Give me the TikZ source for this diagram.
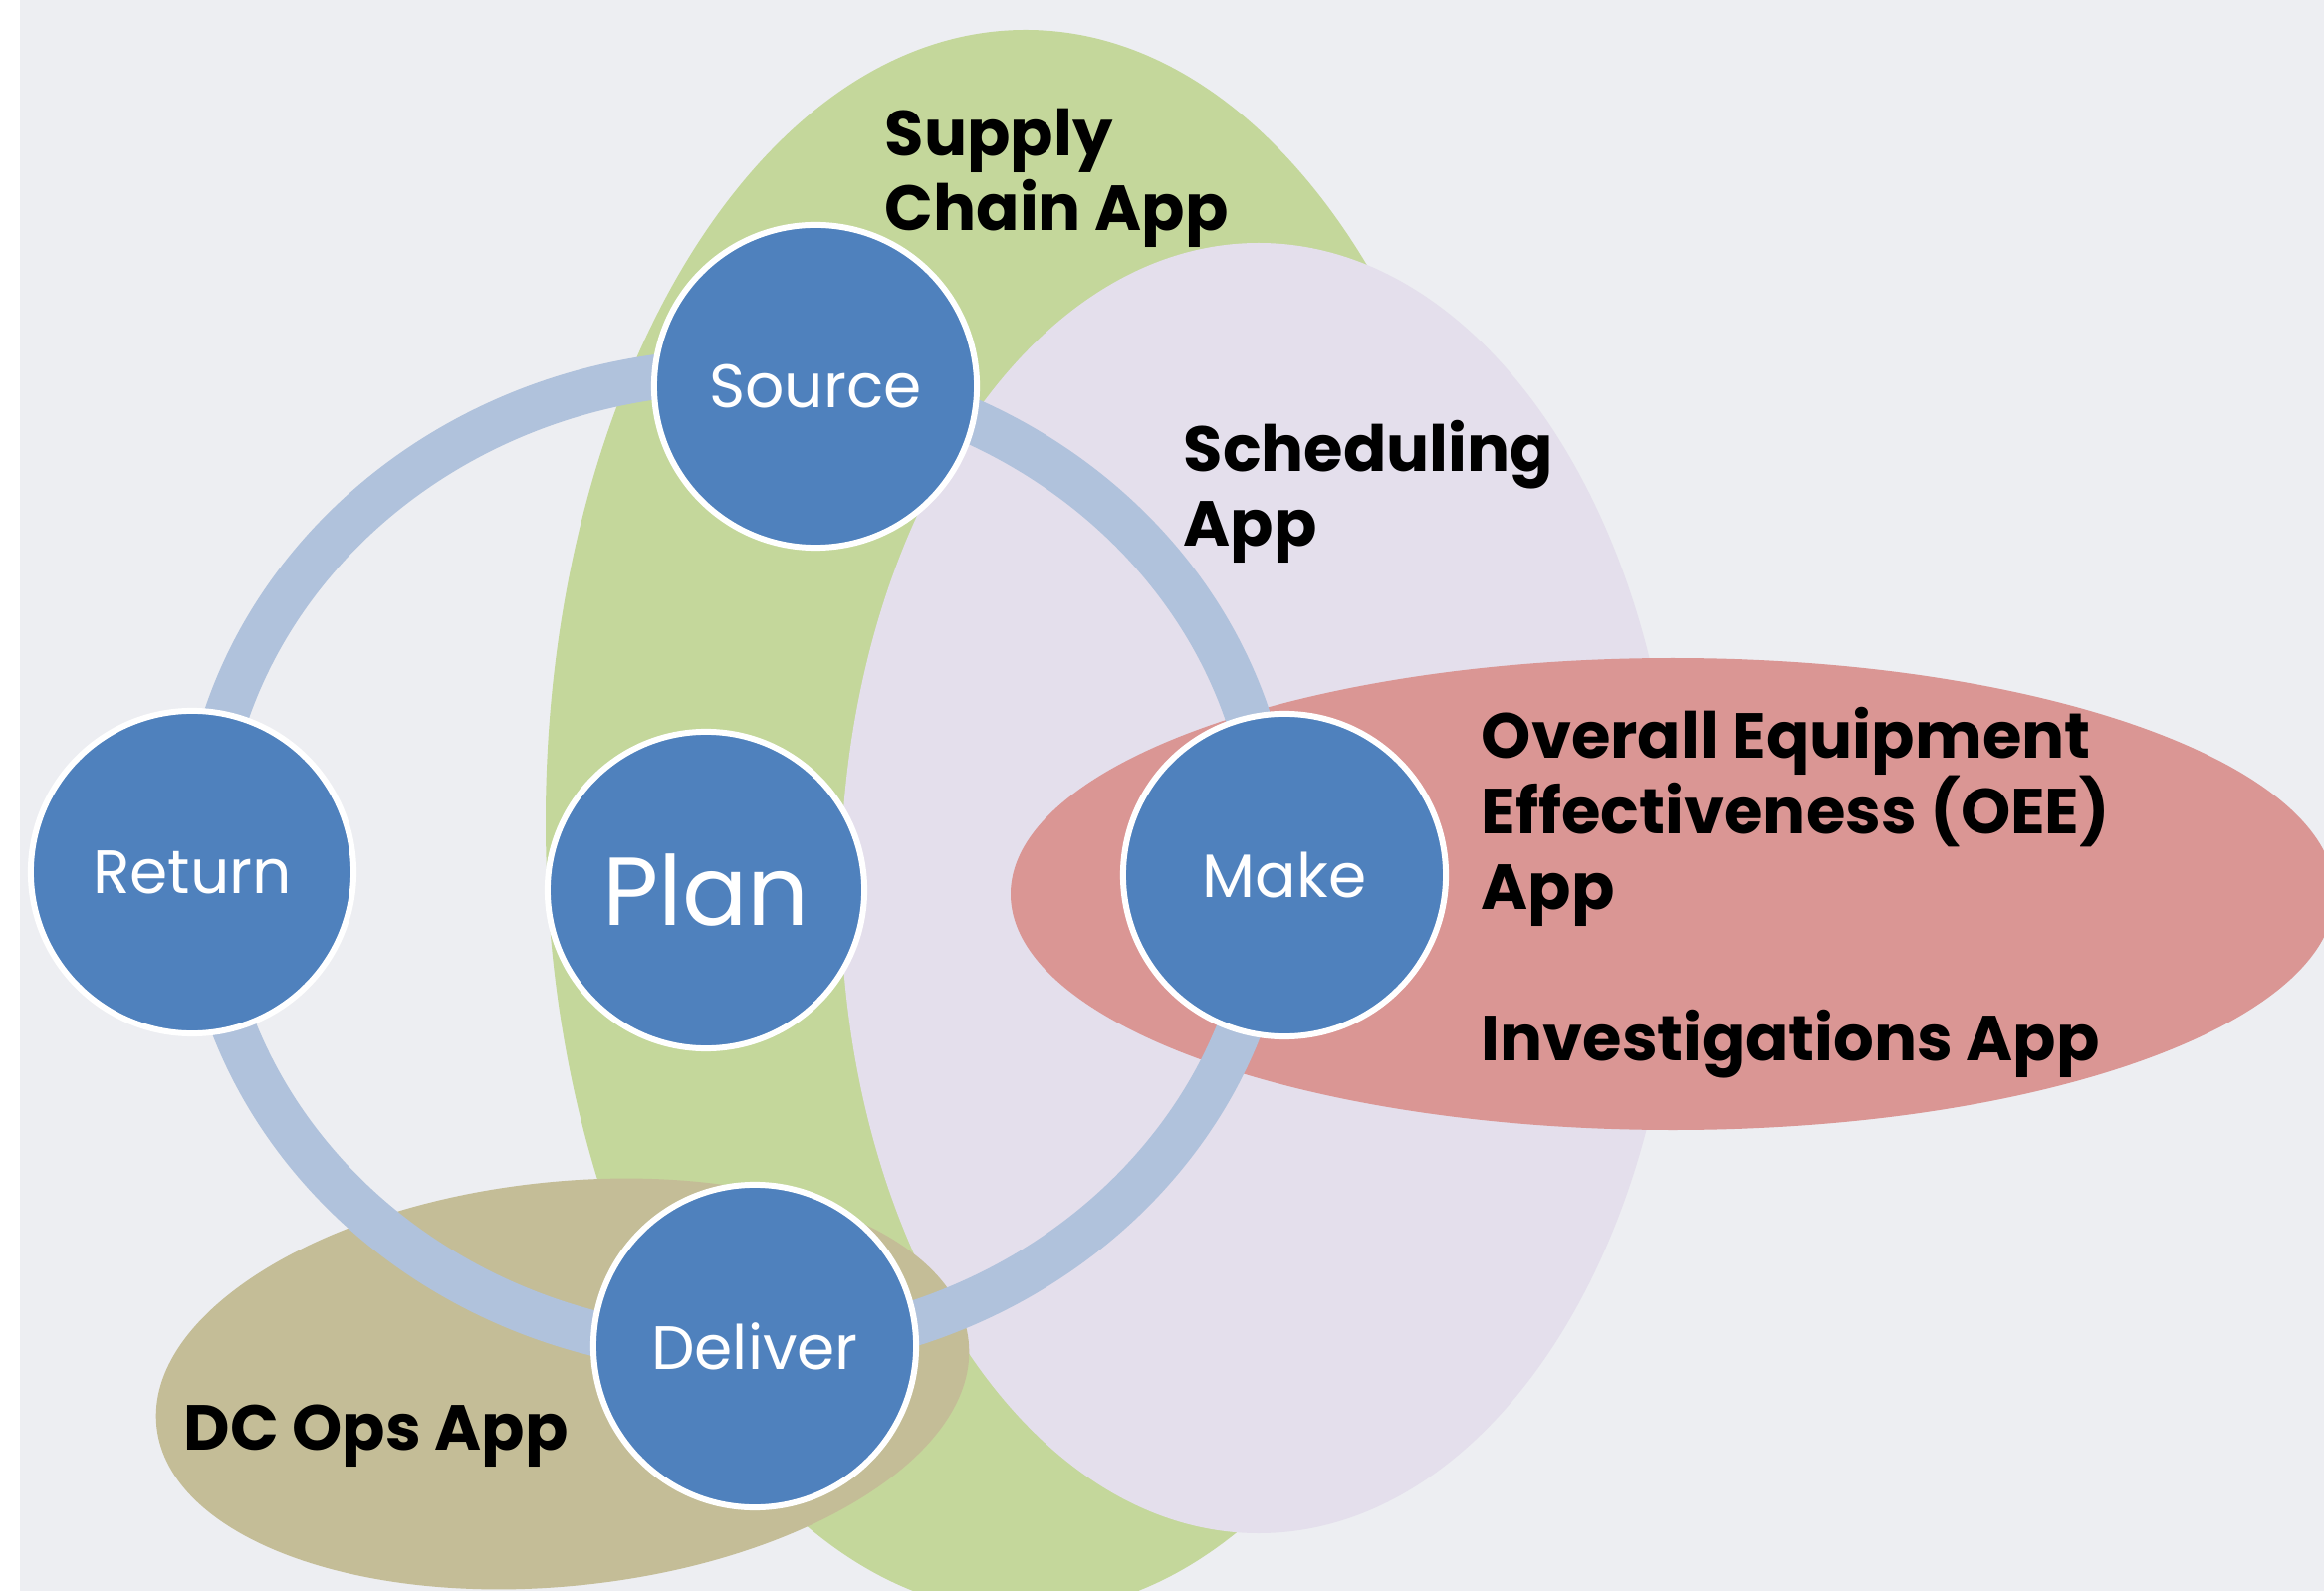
\documentclass[tikz,border=0pt]{standalone}
\usepackage{fontspec}
\setmainfont{Poppins}
\definecolor{bgc}{HTML}{EDEEF2}
\definecolor{supplygreen}{HTML}{C4D79B}
\definecolor{schedlilac}{HTML}{E4DFEC}
\definecolor{oeered}{HTML}{DA9694}
\definecolor{dctan}{HTML}{C4BD97}
\definecolor{ringblue}{HTML}{B0C2DC}
\definecolor{stageblue}{HTML}{4F81BD}
\begin{document}
\begin{tikzpicture}[x=0.01cm,y=-0.01cm,
    stage/.style={circle,fill=stageblue,draw=white,line width=1.7pt,minimum size=3.24cm,
        inner sep=0pt,text=white,font=\fontsize{17.5}{21}\selectfont},
    app/.style={anchor=base west,align=left,inner sep=0pt,
        font=\fontsize{18.2}{21.6}\selectfont\bfseries}]
    \useasboundingbox (0,0) rectangle (2334,1598);
    \clip (0,0) rectangle (2334,1598);
    \fill[white] (0,0) rectangle (2334,1598);
    \fill[bgc] (20,0) rectangle (2334,1598);

    \fill[supplygreen] (1030,825) ellipse [x radius=482,y radius=795];
    \fill[schedlilac] (1264,892) ellipse [x radius=420,y radius=648];
    \fill[oeered] (1680,898) ellipse [x radius=665,y radius=237];
    \fill[dctan,rotate around={6:(565,1390)}] (565,1390) ellipse [x radius=410,y radius=203];
    \draw[ringblue,line width=12.8pt] (740,865) ellipse [x radius=537,y radius=492];

    \node[stage] (S) at (819,388) {Source};
    \node[stage] (R) at (193,876) {Return};
    \node[stage] (M) at (1290,879) {Make};
    \node[stage] (D) at (758,1352) {Deliver};
    \node[stage,minimum size=3.18cm,font=\fontsize{27.6}{33}\selectfont] (P) at (709,894) {Plan};

    \node[app] (sca) at (888,232) {Supply\\Chain App};
    \node[app] (sch) at (1188,549) {Scheduling\\App};
    \node[app] (oee) at (1487,1065) {Overall Equipment\\Effectiveness (OEE)\\App\\[21.6pt]Investigations App};
    \node[app] (dco) at (184,1456) {DC Ops App};
\end{tikzpicture}
\end{document}
